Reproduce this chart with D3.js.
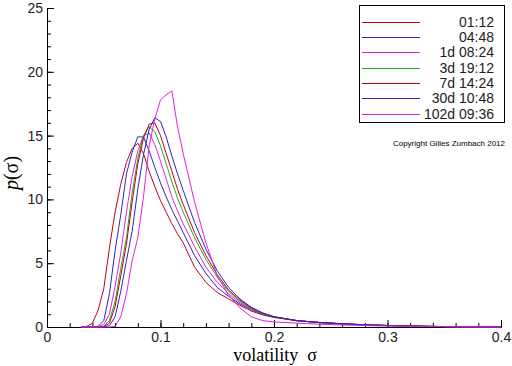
<!DOCTYPE html>
<html>
<head>
<meta charset="utf-8">
<script src="https://cdn.jsdelivr.net/npm/d3@7"></script>
<style>
  body { margin: 0; background: #fff; }
  .tick text { font-family: "Liberation Sans", Arial, sans-serif; font-size: 14px; fill: #222; }
</style>
</head>
<body>
<div class="vol-chart"></div>
<script>
// sigma grid shared by all curves
var sigma = [0.03, 0.035, 0.04, 0.045, 0.05, 0.055, 0.06, 0.065, 0.07, 0.075, 0.08, 0.085, 0.09, 0.095, 0.1, 0.105, 0.11, 0.115, 0.12, 0.13, 0.14, 0.15, 0.16, 0.17, 0.18, 0.19, 0.2, 0.22, 0.24, 0.26, 0.28, 0.3, 0.33, 0.36, 0.4]

var labels = ["01:12", "04:48", "1d 08:24", "3d 19:12", "7d 14:24", "30d 10:48", "102d 09:36"]
var colors = ["#c00018", "#2828c0", "#e020e0", "#18b018", "#c00018", "#2828c0", "#e020e0"]

var p0112 = [0, 0.05, 0.3, 1.3, 3.0, 6.2, 9.0, 11.2, 12.9, 14.0, 14.4, 13.6, 12.2, 11.0, 9.9, 9.0, 8.1, 7.3, 6.6, 4.7, 3.5, 2.7, 2.2, 1.7, 1.25, 0.95, 0.75, 0.5, 0.35, 0.25, 0.17, 0.12, 0.06, 0.02, 0]
var p0448 = [0, 0, 0.02, 0.05, 0.5, 2.6, 6.0, 8.8, 12.0, 13.7, 14.9, 14.9, 13.8, 12.5, 11.3, 10.2, 9.2, 8.3, 7.4, 5.6, 4.2, 3.1, 2.4, 1.8, 1.35, 1.0, 0.78, 0.5, 0.35, 0.25, 0.17, 0.12, 0.06, 0.02, 0]
var p1d = [0, 0, 0, 0.02, 0.2, 1.0, 3.2, 5.8, 9.0, 11.8, 13.8, 15.0, 15.2, 14.3, 13.0, 11.6, 10.2, 9.1, 8.1, 6.3, 4.7, 3.5, 2.6, 1.9, 1.4, 1.05, 0.8, 0.5, 0.33, 0.23, 0.16, 0.11, 0.05, 0.02, 0]
var p3d = [0, 0, 0, 0, 0.05, 0.5, 2.0, 4.6, 7.0, 10.5, 13.2, 15.0, 15.7, 15.3, 14.2, 12.8, 11.4, 10.1, 9.0, 7.0, 5.3, 3.9, 2.8, 2.0, 1.45, 1.05, 0.8, 0.5, 0.35, 0.25, 0.17, 0.12, 0.06, 0.02, 0]
var p7d = [0, 0, 0, 0, 0.03, 0.3, 1.6, 4.0, 6.5, 9.8, 12.8, 14.8, 15.9, 16.0, 15.0, 13.6, 12.2, 10.8, 9.6, 7.4, 5.6, 4.1, 2.9, 2.1, 1.5, 1.1, 0.8, 0.5, 0.36, 0.26, 0.18, 0.12, 0.06, 0.02, 0]
var p30d = [0, 0, 0, 0, 0, 0.1, 0.8, 2.8, 5.2, 7.5, 10.8, 13.5, 15.5, 16.4, 16.1, 14.9, 13.4, 12.0, 10.7, 8.2, 6.1, 4.4, 3.1, 2.2, 1.55, 1.1, 0.8, 0.5, 0.35, 0.25, 0.17, 0.12, 0.06, 0.02, 0]
var p102d = [0, 0, 0, 0, 0, 0, 0.05, 0.8, 2.6, 5.2, 7.0, 10.2, 14.2, 16.3, 17.8, 18.2, 18.5, 15.7, 13.6, 9.8, 6.6, 4.0, 2.5, 1.5, 0.8, 0.5, 0.4, 0.3, 0.22, 0.16, 0.11, 0.07, 0.04, 0.02, 0]

var series = [p0112, p0448, p1d, p3d, p7d, p30d, p102d]

var xTicks = [0, 0.1, 0.2, 0.3, 0.4]
var yTicks = [0, 5, 10, 15, 20, 25]

var width = 512, height = 366
var svg = d3.select(".vol-chart").append("svg")
    .attr("width", width)
    .attr("height", height)

var x = d3.scaleLinear().domain([0, 0.4]).range([47, 501])
var y = d3.scaleLinear().domain([0, 25]).range([327, 8])

// minor ticks first, then major ones on top
svg.append("g")
    .attr("transform", "translate(0,327)")
    .call(d3.axisBottom(x).tickValues(d3.range(0, 0.401, 0.02)).tickSize(-4).tickSizeOuter(0).tickFormat(""))
svg.append("g")
    .attr("transform", "translate(47,0)")
    .call(d3.axisLeft(y).tickValues(d3.range(0, 25.1, 1)).tickSize(-4).tickSizeOuter(0).tickFormat(""))

var xAxis = svg.append("g")
    .attr("transform", "translate(0,327)")
    .call(d3.axisBottom(x).tickValues(xTicks).tickSize(-7).tickSizeOuter(0).tickPadding(5)
      .tickFormat(function(d) { return d === 0 ? "0" : d3.format(".1f")(d) }))
var yAxis = svg.append("g")
    .attr("transform", "translate(47,0)")
    .call(d3.axisLeft(y).tickValues(yTicks).tickSize(-7).tickSizeOuter(0).tickPadding(4))
svg.selectAll(".domain, .tick line").attr("stroke", "#000")

// curves
var line = d3.line()
    .x(function(d, i) { return x(sigma[i]) })
    .y(function(d) { return y(d) })

svg.append("g").selectAll("path")
    .data(series)
    .enter().append("path")
    .attr("d", line)
    .attr("fill", "none")
    .attr("stroke", function(d, i) { return colors[i] })
    .attr("stroke-width", 1)

// legend
var lg = svg.append("g")
lg.append("rect")
    .attr("x", 359.5).attr("y", 5.5)
    .attr("width", 145).attr("height", 117)
    .attr("fill", "#fff").attr("stroke", "#000")
var row = lg.selectAll("g.row")
    .data(labels)
    .enter().append("g")
    .attr("class", "row")
    .attr("transform", function(d, i) { return "translate(0," + (Math.round(21.7 + i * 15.3) + 0.5) + ")" })
row.append("line")
    .attr("x1", 362).attr("x2", 420)
    .attr("stroke", function(d, i) { return colors[i] })
row.append("text")
    .attr("x", 494).attr("dy", "0.35em")
    .attr("text-anchor", "end")
    .style("font-family", "'Liberation Sans', Arial, sans-serif")
    .style("font-size", "14px")
    .attr("fill", "#222")
    .text(function(d) { return d })

svg.append("text")
    .attr("x", 505).attr("y", 146)
    .attr("text-anchor", "end")
    .style("font-family", "'Liberation Sans', Arial, sans-serif")
    .style("font-size", "8px")
    .text("Copyright Gilles Zumbach 2012")

// axis titles
svg.append("text")
    .attr("transform", "translate(18,173) rotate(-90)")
    .attr("text-anchor", "middle")
    .style("font-family", "'Liberation Serif', 'Times New Roman', serif")
    .style("font-size", "20px")
    .html("<tspan font-style='italic'>p</tspan>(σ)")

svg.append("text")
    .attr("x", 275).attr("y", 361)
    .attr("text-anchor", "middle")
    .style("font-family", "'Liberation Serif', 'Times New Roman', serif")
    .style("font-size", "18px")
    .style("white-space", "pre")
    .text("volatility  σ")
</script>
</body>
</html>
